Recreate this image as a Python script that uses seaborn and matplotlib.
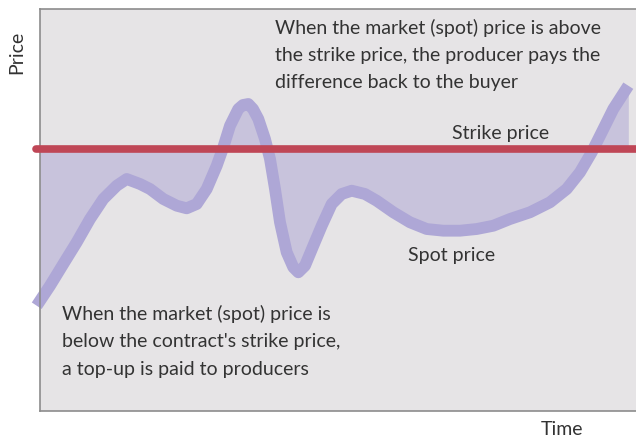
import matplotlib
matplotlib.use("Agg")
import matplotlib.pyplot as plt
import seaborn as sns
import pandas as pd

# spot price curve (time and price on 0-100 scales)
time = [-0.55, 1.68, 3.91, 6.16, 8.39, 10.62, 12.87, 14.55, 16.78, 18.46,
        20.69, 22.94, 24.61, 26.29, 27.97, 29.65, 30.75, 31.88, 33.27, 34.06,
        34.95, 35.74, 36.63, 37.75, 38.59, 39.43, 40.27, 41.39, 42.50, 43.34,
        44.46, 45.86, 47.27, 48.94, 50.62, 52.30, 54.53, 56.49, 59.28, 62.08,
        64.88, 67.67, 70.47, 73.27, 76.06, 78.86, 82.21, 85.57, 88.37, 90.60,
        92.57, 94.25, 96.19, 98.71]
spot = [26.19, 31.17, 36.57, 41.97, 47.76, 52.74, 56.04, 57.71, 56.47, 55.22,
        52.74, 51.07, 50.42, 51.49, 55.22, 61.02, 65.60, 70.97, 75.12, 76.12,
        76.37, 75.12, 72.64, 67.66, 62.69, 55.22, 46.94, 39.48, 35.75, 34.50,
        36.14, 41.12, 46.09, 51.49, 53.98, 54.80, 53.98, 52.31, 49.43, 46.94,
        45.27, 44.85, 44.85, 45.27, 46.09, 47.76, 49.43, 51.92, 55.22, 59.38,
        64.35, 69.33, 75.12, 80.92]
strike = 65.2

df = pd.DataFrame({"Time": time, "Spot": spot})

sns.set_theme(style="white", rc={"axes.facecolor": "#e6e4e6"})
plt.rcParams["font.family"] = ["Lato", "DejaVu Sans"]

fig = plt.figure(figsize=(6.36, 4.39), dpi=100)
ax = fig.add_axes([40 / 636, 27 / 439, 596 / 636, 402 / 439])

# shaded gap between spot and strike
ax.fill_between(df["Time"], df["Spot"], strike, color="#c8c3dc", lw=0, zorder=1)

sns.lineplot(data=df, x="Time", y="Spot", ax=ax, color="#aea7d6", lw=8.5,
             solid_capstyle="butt", solid_joinstyle="round", zorder=2, clip_on=False)

ax.axhline(strike, xmin=-0.007, xmax=1, color="#bf4656", lw=5.5, zorder=3, clip_on=False)

ax.set_xlim(0, 100)
ax.set_ylim(0, 100)
ax.set_xticks([])
ax.set_yticks([])
ax.set_xlabel("")
ax.set_ylabel("")
for side in ["left", "top", "bottom"]:
    ax.spines[side].set_color("#8c8c8c")
    ax.spines[side].set_linewidth(1.2)
ax.spines["right"].set_visible(False)

txt = "#333333"
fs = 14
ax.text(39.5, 97.9, "When the market (spot) price is above\nthe strike price, the producer pays the\ndifference back to the buyer",
        va="top", ha="left", fontsize=fs, color=txt, linespacing=1.74)
ax.text(3.7, 26.6, "When the market (spot) price is\nbelow the contract's strike price,\na top-up is paid to producers",
        va="top", ha="left", fontsize=fs, color=txt, linespacing=1.74)
ax.text(69.1, 69.4, "Strike price", ha="left", va="center", fontsize=fs, color=txt)
ax.text(61.7, 39.0, "Spot price", ha="left", va="center", fontsize=fs, color=txt)

fig.text(17 / 636, 1 - 52 / 439, "Price", rotation=90, ha="center", va="center",
         fontsize=fs, color=txt)
fig.text(562 / 636, 1 - 430 / 439, "Time", ha="center", va="center",
         fontsize=fs, color=txt)

fig.savefig("out.png", dpi=100)
